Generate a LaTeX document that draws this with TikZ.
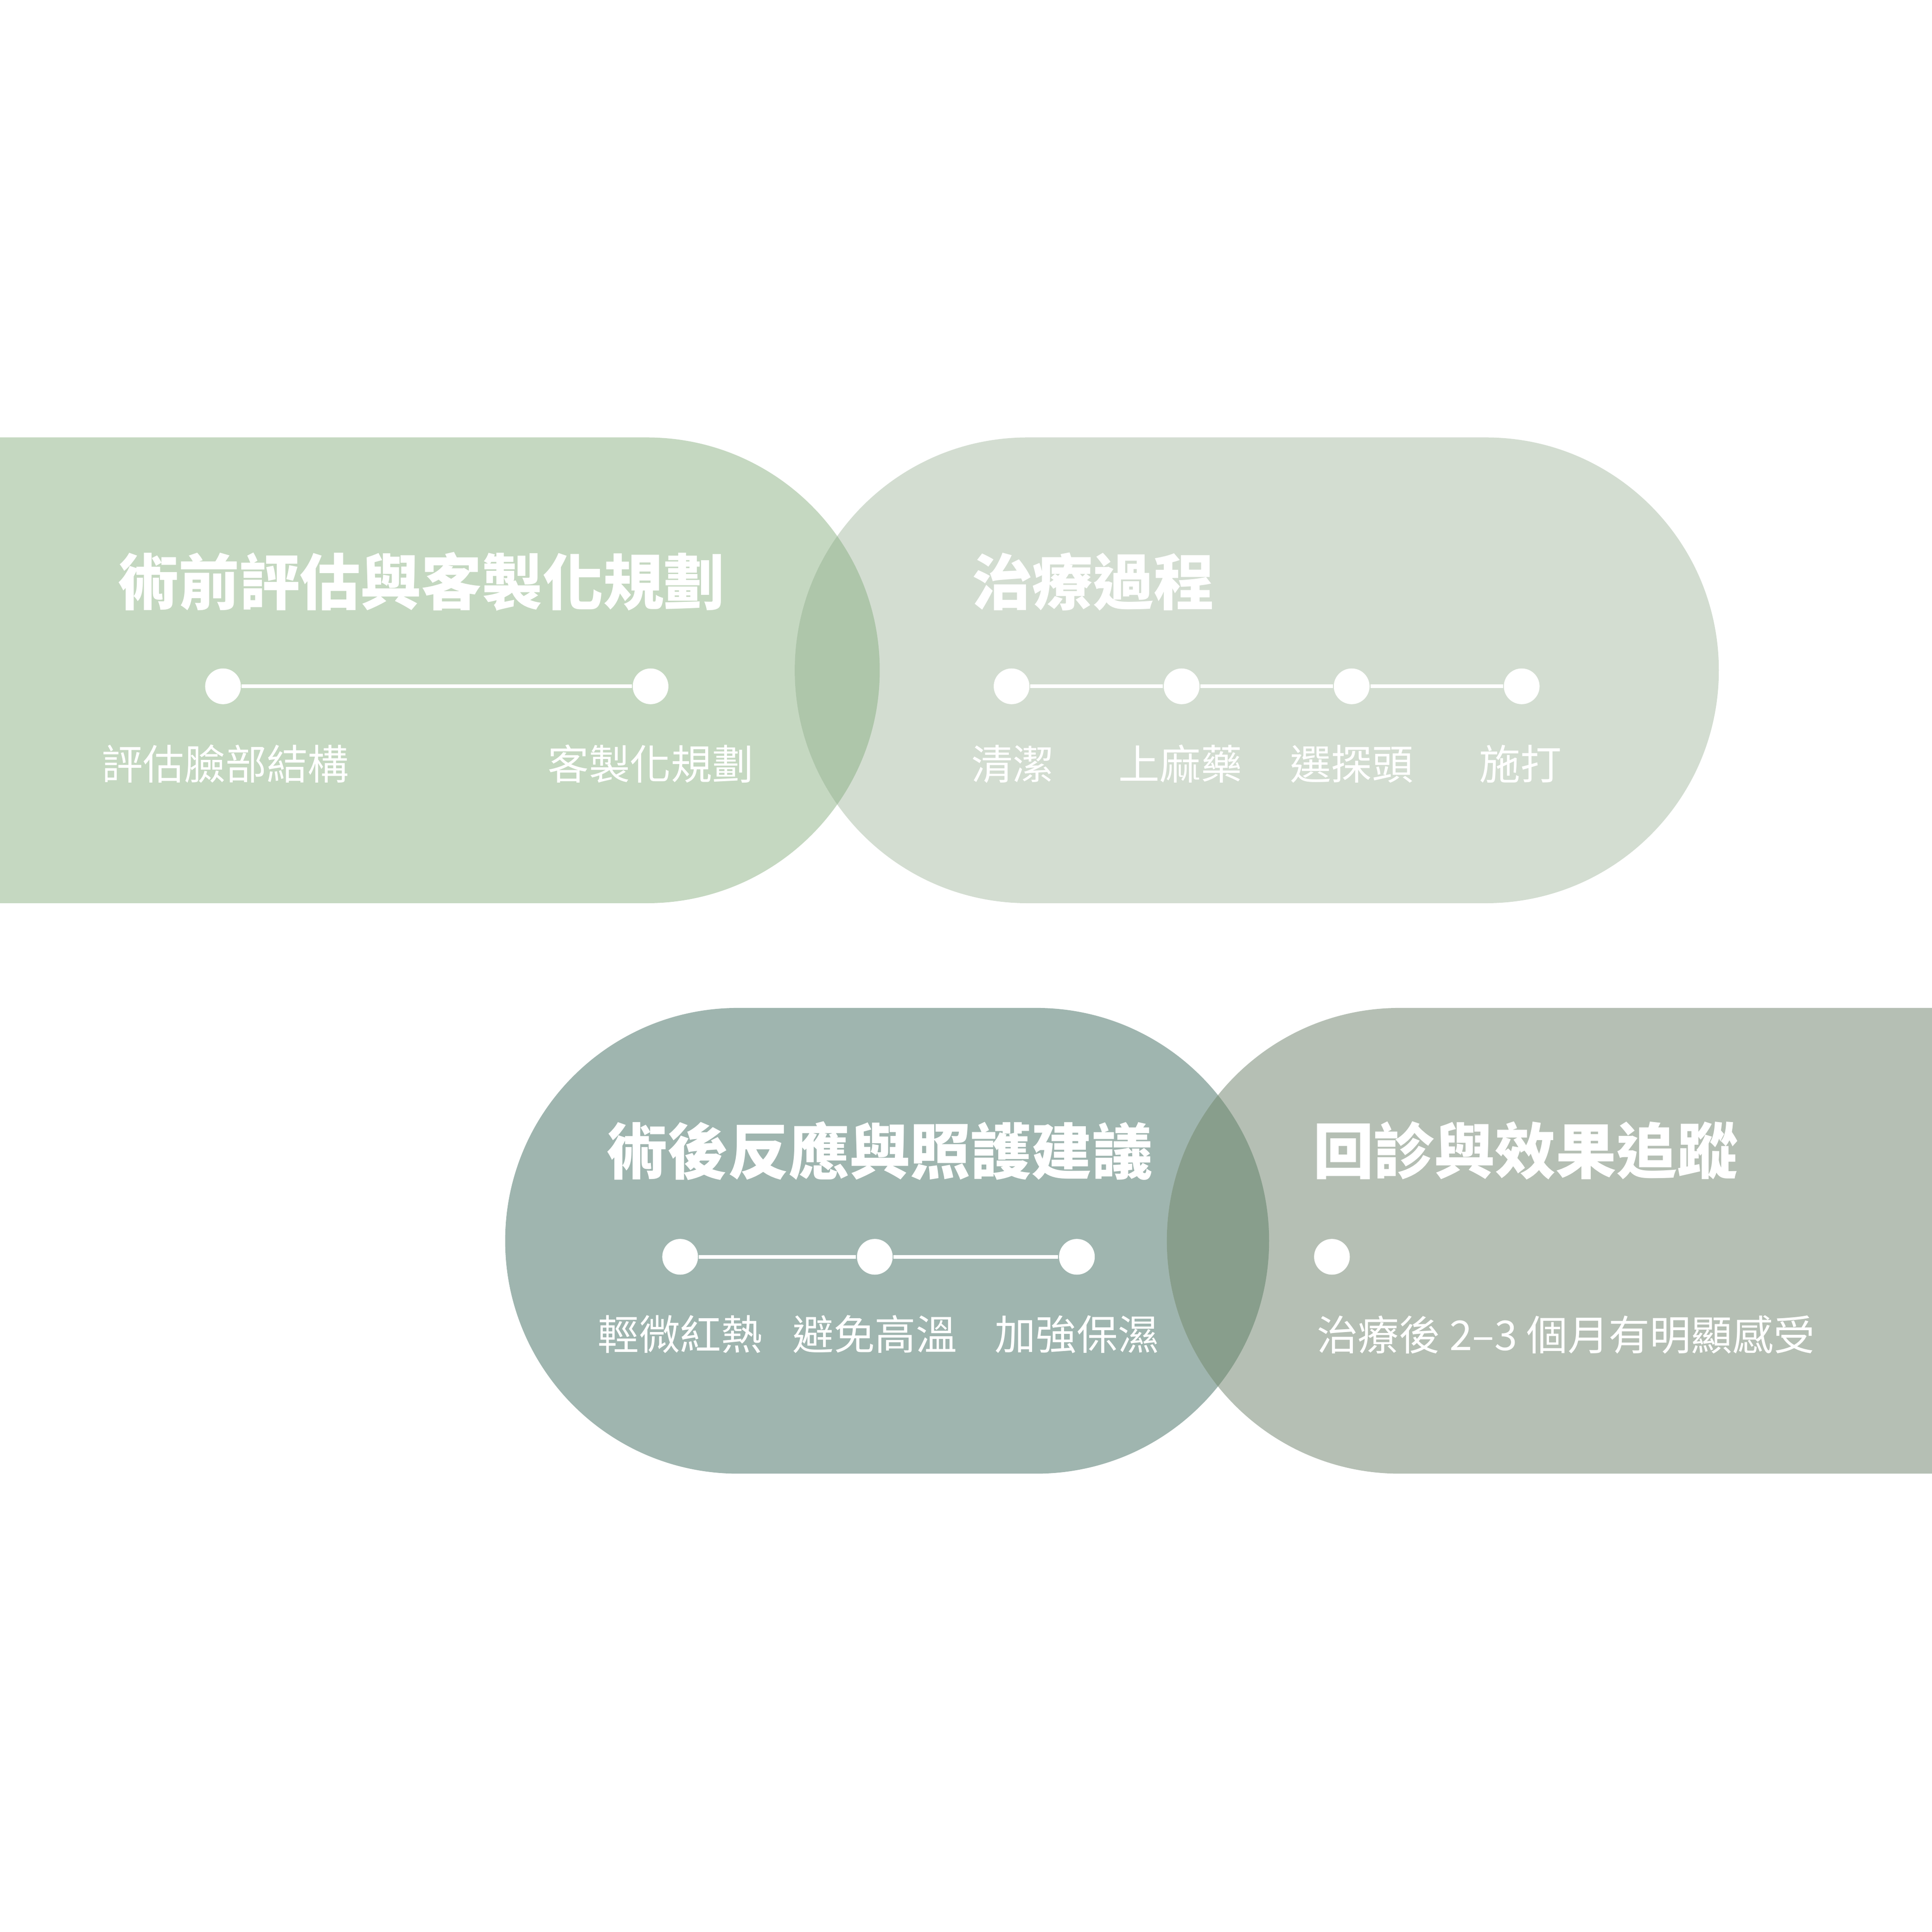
\documentclass[tikz,border=0pt]{standalone}
\usepackage{fontspec}
\newfontfamily\cjk{Noto Sans CJK TC}
\definecolor{cA}{HTML}{C5D8C1}
\definecolor{cB}{HTML}{D3DDD1}
\definecolor{cAB}{HTML}{AEC6AA}
\definecolor{cC}{HTML}{9FB5AF}
\definecolor{cD}{HTML}{B5BFB4}
\definecolor{cCD}{HTML}{889E8C}
\tikzset{
 ttl/.style={text=white,font=\cjk\bfseries\fontsize{14}{16}\selectfont,inner sep=0pt},
 lbl/.style={text=white,font=\cjk\fontsize{9.5}{11}\selectfont,inner sep=0pt},
 dot/.style={circle,fill=white,minimum size=0.29cm,inner sep=0pt},
 link/.style={white,line width=0.03cm}
}
\begin{document}
\begin{tikzpicture}[x=0.01cm,y=-0.01cm]
\useasboundingbox (0,0) rectangle (1568,1568);
\fill[white] (0,0) rectangle (1568,1568);
\def\shA{(0,355) -- (525,355) arc[start angle=-90,end angle=90,radius=189] -- (0,733) -- cycle}
\def\shB{(834,355) -- (1206,355) arc[start angle=-90,end angle=90,radius=189] -- (834,733) arc[start angle=90,end angle=270,radius=189] -- cycle}
\def\shC{(599,818) -- (841,818) arc[start angle=-90,end angle=90,radius=189] -- (599,1196) arc[start angle=90,end angle=270,radius=189] -- cycle}
\def\shD{(1136,818) -- (1568,818) -- (1568,1196) -- (1136,1196) arc[start angle=90,end angle=270,radius=189] -- cycle}
\fill[cA] \shA;
\fill[cB] \shB;
\begin{scope}\clip \shA; \fill[cAB] \shB; \end{scope}
\fill[cC] \shC;
\fill[cD] \shD;
\begin{scope}\clip \shC; \fill[cCD] \shD; \end{scope}
% group 1
\node[ttl,anchor=west] (t1) at (95,472) {術前評估與客製化規劃};
\node[dot] (a1) at (181,557) {};
\node[dot] (a2) at (528,557) {};
\draw[link] (a1) -- (a2);
\node[lbl] (l1) at (183,620) {評估臉部結構};
\node[lbl] (l2) at (528,620) {客製化規劃};
% group 2
\node[ttl,anchor=west] (t2) at (788,472) {治療過程};
\node[dot] (b1) at (821,557) {};
\node[dot] (b2) at (959,557) {};
\node[dot] (b3) at (1097,557) {};
\node[dot] (b4) at (1235,557) {};
\draw[link] (b1) -- (b2) -- (b3) -- (b4);
\node[lbl] at (822,620) {清潔};
\node[lbl] at (958,620) {上麻藥};
\node[lbl] at (1097,620) {選探頭};
\node[lbl] at (1234,620) {施打};
% group 3
\node[ttl] (t3) at (714,934) {術後反應與照護建議};
\node[dot] (c1) at (552,1020) {};
\node[dot] (c2) at (710,1020) {};
\node[dot] (c3) at (874,1020) {};
\draw[link] (c1) -- (c2) -- (c3);
\node[lbl] at (552,1083) {輕微紅熱};
\node[lbl] at (710,1083) {避免高溫};
\node[lbl] at (874,1083) {加強保濕};
% group 4
\node[ttl,anchor=west] (t4) at (1065,934) {回診與效果追蹤};
\node[dot] (d1) at (1081,1020) {};
\node[lbl,anchor=west] at (1068,1083) {治療後 2–3 個月有明顯感受};
\end{tikzpicture}
\end{document}
